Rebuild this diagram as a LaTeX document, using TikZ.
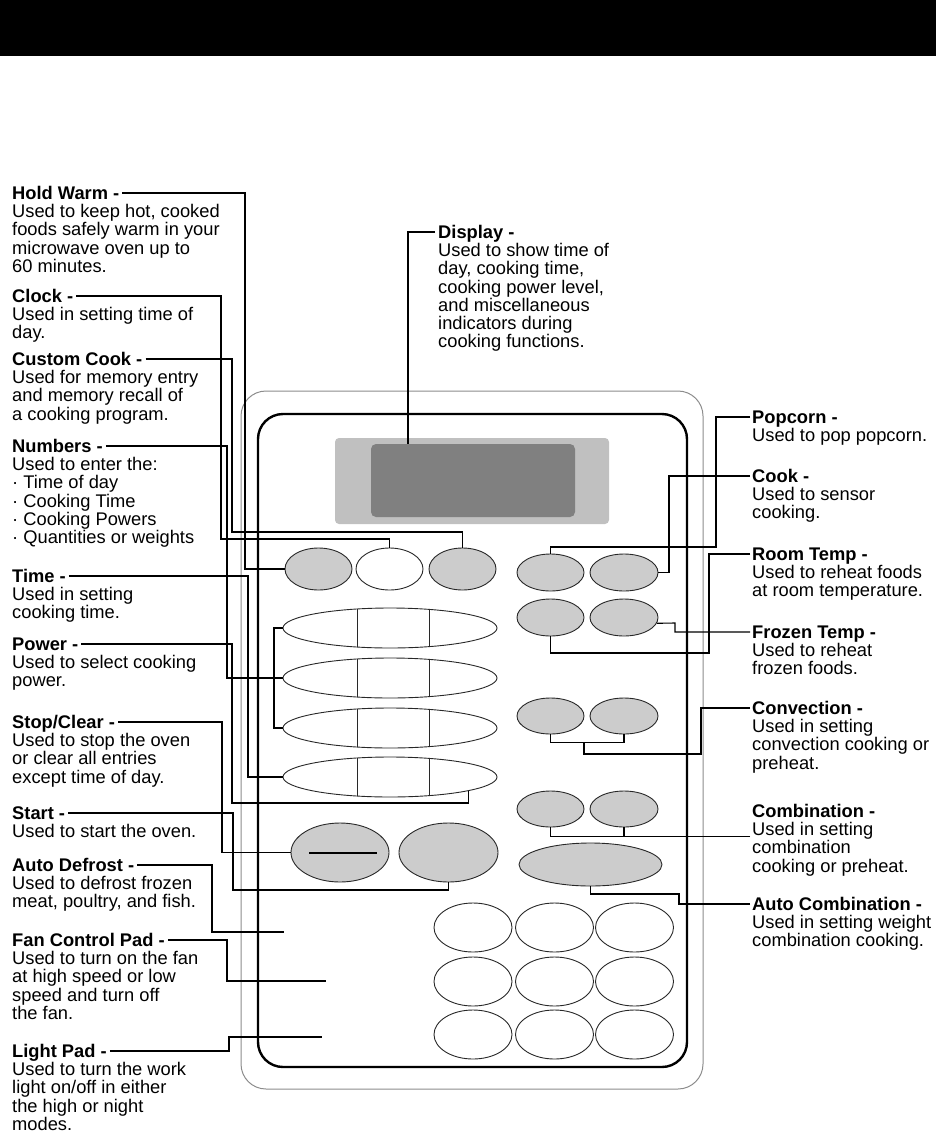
\documentclass[tikz,border=0pt]{standalone}
\usepackage{fontspec}
\setmainfont{Liberation Sans}
\usepackage{tikz}
\usetikzlibrary{shapes.geometric}
\usepackage{xcolor}
\definecolor{padgray}{RGB}{204, 204, 204}
\definecolor{padline}{RGB}{40, 40, 40}
\definecolor{lcdlight}{RGB}{192, 192, 192}
\definecolor{lcddark}{RGB}{128, 128, 128}
\definecolor{rimgray}{RGB}{140, 140, 140}
\tikzstyle{padname} = [font=\fontsize{18.3}{18.2}\selectfont\bfseries, inner sep=0pt,
                       text height=12pt, text depth=0pt, anchor=base west]
\tikzstyle{padtext} = [font=\fontsize{18.3}{18.2}\selectfont, inner sep=0pt, align=left, anchor=north west]
\tikzstyle{pad} = [ellipse, draw=padline, line width=0.9pt, fill=padgray, inner sep=0pt]
\tikzstyle{blankpad} = [pad, fill=white]
\tikzstyle{leader} = [line width=1.1pt, black]

\begin{document}
\begin{tikzpicture}[x=1pt, y=-1pt]
\useasboundingbox (0,0) rectangle (936,1133);

% Header bar
\fill[black] (0,0) rectangle (936,56);

% Oven control panel
\draw[rimgray, line width=1pt, rounded corners=25pt] (241,391) rectangle (703,1089);
\draw[line width=2.4pt, rounded corners=25pt] (258,414) rectangle (687,1067);

% Display window
\node[rectangle, rounded corners=4pt, fill=lcdlight, minimum width=274pt, minimum height=86pt] (lcdframe) at (472,481) {};
\node[rectangle, rounded corners=5pt, fill=lcddark, minimum width=204pt, minimum height=73pt] (lcd) at (473,480.5) {};

% Top row pads
\node[pad, minimum width=67pt, minimum height=42pt] (holdbtn) at (318.5,569) {};
\node[blankpad, minimum width=67pt, minimum height=42pt] (clockbtn) at (389.5,569) {};
\node[pad, minimum width=67pt, minimum height=42pt] (custbtn) at (462.5,569) {};

% Number pads
\foreach \y [count=\i] in {628,678,728,777} {
  \node[blankpad, minimum width=214pt, minimum height=40pt] (num\i) at (390,\y) {};
  \draw[padline, line width=0.9pt] (357,{\y-19}) -- (357,{\y+19});
  \draw[padline, line width=0.9pt] (429,{\y-19}) -- (429,{\y+19});
}

% Stop/Clear and Start
\node[pad, minimum width=98pt, minimum height=59pt] (stopbtn) at (340,852.5) {};
\draw[line width=2pt] ([xshift=-31pt]stopbtn.center) -- ([xshift=37pt]stopbtn.center);
\node[pad, minimum width=99pt, minimum height=59pt] (startbtn) at (448.5,852.5) {};

% Keypad
\foreach \x [count=\i] in {473,554.5,634.5}
  \foreach \y [count=\j] in {927.5,981.5,1034.5}
    \node[blankpad, minimum width=78pt, minimum height=49pt] (k\j\i) at (\x,\y) {};

% Right pads
\node[pad, minimum width=67pt, minimum height=37pt] (pop) at (550.5,572.5) {};
\node[pad, minimum width=68pt, minimum height=37pt] (cook) at (624,572.5) {};
\node[pad, minimum width=67pt, minimum height=37pt] (room) at (550.5,617.5) {};
\node[pad, minimum width=68pt, minimum height=37pt] (frozen) at (624,617.5) {};
\node[pad, minimum width=67pt, minimum height=36pt] (conv1) at (550.5,716) {};
\node[pad, minimum width=68pt, minimum height=36pt] (conv2) at (624,716) {};
\node[pad, minimum width=67pt, minimum height=36pt] (comb1) at (550.5,809) {};
\node[pad, minimum width=68pt, minimum height=36pt] (comb2) at (624,809) {};
\node[pad, minimum width=143pt, minimum height=43pt] (autocomb) at (590.5,864.5) {};

% Unmarked pads
\coordinate (defrostpad) at (284,932);
\coordinate (fanpad) at (326,981);
\coordinate (lightpad) at (322,1037);
\coordinate (convjoin) at (584,742);

% Left labels
\node[padname] (holdwarm) at (12,199) {Hold Warm -};
\node[padtext] (holdwarmtxt) at (12,204.3) {Used to keep hot, cooked\\foods safely warm in your\\microwave oven up to\\60 minutes.};
\node[padname] (clock) at (12,302) {Clock -};
\node[padtext] (clocktxt) at (12,307.3) {Used in setting time of\\day.};
\node[padname] (custom) at (12,365) {Custom Cook -};
\node[padtext] (customtxt) at (12,370.3) {Used for memory entry\\and memory recall of\\a cooking program.};
\node[padname] (numbers) at (12,452) {Numbers -};
\node[padtext] (numberstxt) at (12,457.3) {Used to enter the:\\· Time of day\\· Cooking Time\\· Cooking Powers\\· Quantities or weights};
\node[padname] (time) at (12,582) {Time -};
\node[padtext] (timetxt) at (12,587.3) {Used in setting\\cooking time.};
\node[padname] (power) at (12,650) {Power -};
\node[padtext] (powertxt) at (12,655.3) {Used to select cooking\\power.};
\node[padname] (stopclear) at (12,728) {Stop/Clear -};
\node[padtext] (stopcleartxt) at (12,733.3) {Used to stop the oven\\or clear all entries\\except time of day.};
\node[padname] (start) at (12,819) {Start -};
\node[padtext] (starttxt) at (12,824.3) {Used to start the oven.};
\node[padname] (autodefrost) at (12,871) {Auto Defrost -};
\node[padtext] (autodefrosttxt) at (12,876.3) {Used to defrost frozen\\meat, poultry, and fish.};
\node[padname] (fan) at (12,946) {Fan Control Pad -};
\node[padtext] (fantxt) at (12,951.3) {Used to turn on the fan\\at high speed or low\\speed and turn off\\the fan.};
\node[padname] (light) at (12,1057) {Light Pad -};
\node[padtext] (lighttxt) at (12,1062.3) {Used to turn the work\\light on/off in either\\the high or night\\modes.};

% Display label
\node[padname] (display) at (438,238) {Display -};
\node[padtext] (displaytxt) at (438,243.3) {Used to show time of\\day, cooking time,\\cooking power level,\\and miscellaneous\\indicators during\\cooking functions.};

% Right labels
\node[padname] (popcorn) at (752,423) {Popcorn -};
\node[padtext] (popcorntxt) at (752,428.3) {Used to pop popcorn.};
\node[padname] (cooklbl) at (752,482) {Cook -};
\node[padtext] (cooktxt) at (752,487.3) {Used to sensor\\cooking.};
\node[padname] (roomlbl) at (752,560) {Room Temp -};
\node[padtext] (roomtxt) at (752,565.3) {Used to reheat foods\\at room temperature.};
\node[padname] (frozenlbl) at (752,638) {Frozen Temp -};
\node[padtext] (frozentxt) at (752,643.3) {Used to reheat\\frozen foods.};
\node[padname] (convlbl) at (752,714) {Convection -};
\node[padtext] (convtxt) at (752,719.3) {Used in setting\\convection cooking or\\preheat.};
\node[padname] (comblbl) at (752,817) {Combination -};
\node[padtext] (combtxt) at (752,822.3) {Used in setting\\combination\\cooking or preheat.};
\node[padname] (autocomblbl) at (752,910) {Auto Combination -};
\node[padtext] (autocombtxt) at (752,915.3) {Used in setting weight\\combination cooking.};

% Leaders, left side
\draw[leader] ([xshift=3pt]holdwarm.east) -| (245,569) -- (holdbtn.west);
\draw[leader] ([xshift=3pt]clock.east) -| (221,539) -| (clockbtn.north);
\draw[leader] ([xshift=3pt]custom.east) -| (232,532) -| (custbtn.north);
\draw[leader] ([xshift=3pt]numbers.east) -| (227,678) -- (num2.west);
\draw[leader] (num1.west) -- (274,628) -- (274,728) -- (num3.west);
\draw[leader] ([xshift=3pt]time.east) -| (248,777) -- (num4.west);
\draw[leader] ([xshift=3pt]power.east) -| (232,803) -| (num4.-10);
\draw[leader] ([xshift=3pt]stopclear.east) -| (222,852.5) -- (stopbtn.west);
\draw[leader] ([xshift=3pt]start.east) -| (233,890) -| (startbtn.south);
\draw[leader] ([xshift=3pt]autodefrost.east) -| (212,932) -- (defrostpad);
\draw[leader] ([xshift=3pt]fan.east) -| (227,981) -- (fanpad);
\draw[leader] ([xshift=3pt]light.east) -| (229,1037) -- (lightpad);

% Leader, display
\draw[leader] ([xshift=-3pt]display.west) -| ([xshift=-65pt]lcd.north);

% Leaders, right side
\draw[leader] ([xshift=-2pt]popcorn.west) -| (716,547) -| (pop.north);
\draw[leader] ([xshift=-2pt]cooklbl.west) -| (669,572.5) -- (cook.east);
\draw[leader] ([xshift=-2pt]roomlbl.west) -| (709,653) -| (room.south);
\draw[leader] ([xshift=-2pt]frozenlbl.west) -| (675,623) -- (frozen.-10);
\draw[leader] (conv1.south) -- ++(0,8) -| (conv2.south);
\draw[leader] ([xshift=-2pt]convlbl.west) -| (701,754) -| (convjoin);
\draw[leader] ([xshift=-2pt,yshift=-14.5pt]combtxt.north west) -| (comb1.south);
\draw[leader] (comb2.south) -- ++(0,10);
\draw[leader] ([xshift=-2pt]autocomblbl.west) -| (679,894) -| (autocomb.south);

\end{tikzpicture}
\end{document}
